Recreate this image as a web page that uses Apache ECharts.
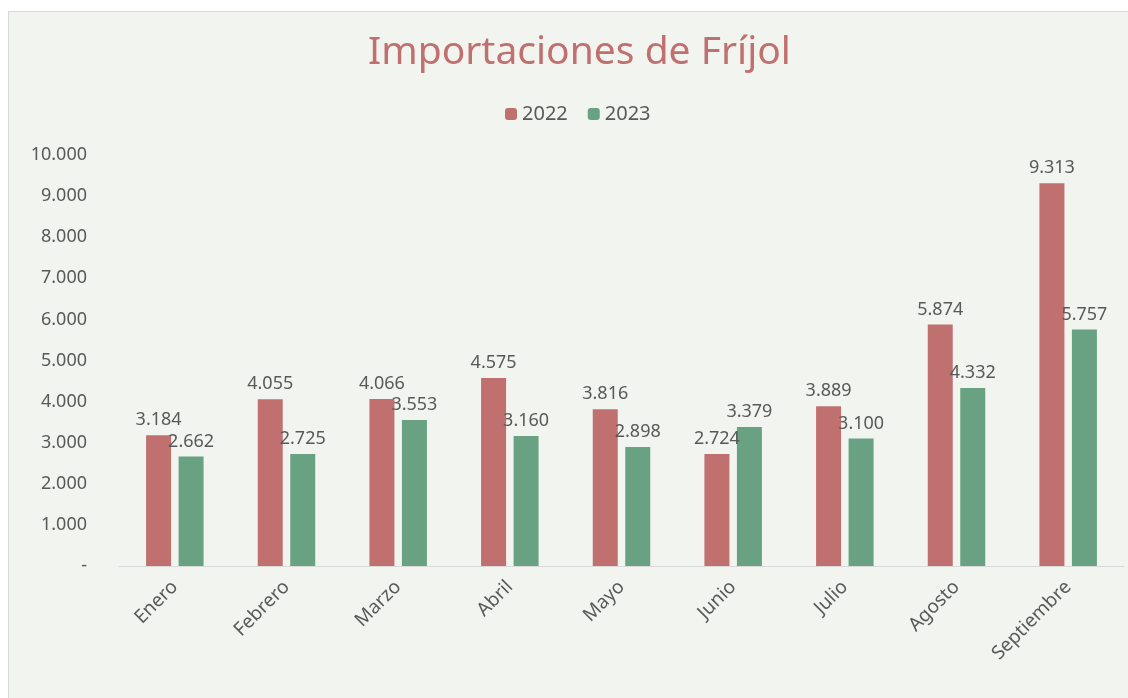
<!DOCTYPE html>
<html>
<head>
<meta charset="utf-8">
<script src="https://cdn.jsdelivr.net/npm/echarts@6/dist/echarts.min.js"></script>
<style>
  body { margin: 0; background: #ffffff; }
  #marco { position: absolute; left: 8px; top: 11px; width: 1130px; height: 700px;
           background: #f2f4ef; border: 1px solid #d9d9d9; }
  #grafico { position: absolute; left: 0; top: 0; width: 1128px; height: 698px; }
</style>
</head>
<body>
<div id="marco"></div>
<div id="grafico"></div>
<script>
// datos del grafico
const meses = ["Enero", "Febrero", "Marzo", "Abril", "Mayo", "Junio", "Julio", "Agosto", "Septiembre"];
const valores2022 = [3184, 4055, 4066, 4575, 3816, 2724, 3889, 5874, 9313];
const valores2023 = [2662, 2725, 3553, 3160, 2898, 3379, 3100, 4332, 5757];

const fuente = "'Noto Sans', sans-serif";
const formato = (v) => (v === 0 ? "-" : v.toLocaleString("de-DE"));

const etiqueta = {
  show: true,
  position: "top",
  distance: 6,
  color: "#595959",
  fontSize: 18,
  fontFamily: fuente,
  formatter: (p) => formato(p.value),
};

const option = {
  animation: false,
  title: {
    text: "Importaciones de Fríjol",
    left: 363,
    top: 28,
    textStyle: { color: "#c0706f", fontSize: 39, fontWeight: "normal", fontFamily: fuente },
  },
  legend: {
    top: 99,
    left: 500,
    itemWidth: 12,
    itemHeight: 12,
    itemGap: 20,
    textStyle: { color: "#595959", fontSize: 20, fontFamily: fuente },
    data: ["2022", "2023"],
  },
  grid: { left: 119, right: 4, top: 155, bottom: 132, containLabel: false },
  xAxis: {
    type: "category",
    data: meses,
    axisLine: { lineStyle: { color: "#d9d9d9" } },
    axisTick: { show: false },
    axisLabel: { rotate: 45, color: "#595959", fontSize: 19, fontFamily: fuente, margin: 18 },
  },
  yAxis: {
    type: "value",
    min: 0,
    max: 10000,
    interval: 1000,
    splitLine: { show: false },
    axisLabel: { color: "#595959", fontSize: 18, fontFamily: fuente, margin: 32, formatter: formato },
  },
  series: [
    {
      name: "2022",
      type: "bar",
      data: valores2022,
      barWidth: 25,
      barGap: "30%",
      itemStyle: { color: "#c0706f" },
      label: etiqueta,
    },
    {
      name: "2023",
      type: "bar",
      data: valores2023,
      barWidth: 25,
      itemStyle: { color: "#69a283" },
      label: etiqueta,
    },
  ],
};

const miGrafico = echarts.init(document.getElementById("grafico"));
miGrafico.setOption(option);
</script>
</body>
</html>
